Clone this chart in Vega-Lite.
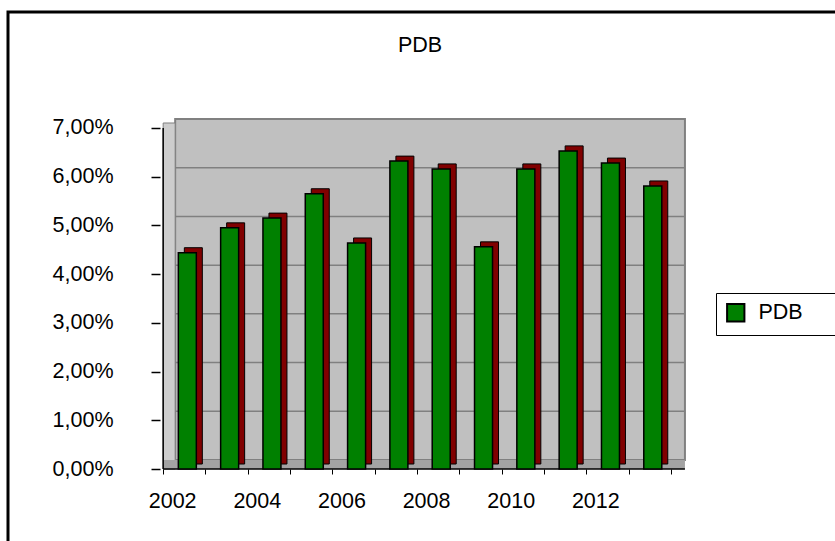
{
  "$schema": "https://vega.github.io/schema/vega-lite/v6.json",
  "width": 830,
  "height": 535,
  "autosize": {"type": "none"},
  "padding": {"left": 8, "top": 12, "right": 0, "bottom": 0},
  "background": "white",
  "title": {
    "text": "PDB",
    "font": "Liberation Sans",
    "fontSize": 21.5,
    "fontWeight": "normal",
    "color": "black",
    "anchor": "middle",
    "frame": "group",
    "baseline": "alphabetic",
    "offset": -61,
    "dx": -3
  },
  "data": {
    "values": [
      {"year": 2002, "pdb": 0.0444, "serie": "PDB"},
      {"year": 2003, "pdb": 0.0495, "serie": "PDB"},
      {"year": 2004, "pdb": 0.0515, "serie": "PDB"},
      {"year": 2005, "pdb": 0.0565, "serie": "PDB"},
      {"year": 2006, "pdb": 0.0464, "serie": "PDB"},
      {"year": 2007, "pdb": 0.0632, "serie": "PDB"},
      {"year": 2008, "pdb": 0.0616, "serie": "PDB"},
      {"year": 2009, "pdb": 0.0456, "serie": "PDB"},
      {"year": 2010, "pdb": 0.0616, "serie": "PDB"},
      {"year": 2011, "pdb": 0.0653, "serie": "PDB"},
      {"year": 2012, "pdb": 0.0628, "serie": "PDB"},
      {"year": 2013, "pdb": 0.0581, "serie": "PDB"}
    ]
  },
  "layer": [
    {
      "data": {"values": [{}]},
      "mark": {"type": "rect", "fill": "#C0C0C0", "stroke": "#808080", "strokeWidth": 2, "xOffset": 12, "x2Offset": 14, "yOffset": -9, "y2Offset": -9},
      "encoding": {
        "x": {"datum": 2001.5, "type": "quantitative", "title": null, "scale": {"domain": [1997.951, 2017.33], "nice": false, "zero": false}},
        "x2": {"datum": 2013.5},
        "y": {"datum": 0, "type": "quantitative", "title": null, "scale": {"domain": [-0.01601, 0.09381], "nice": false, "zero": false}},
        "y2": {"datum": 0.07}
      }
    },
    {
      "data": {"values": [{}]},
      "mark": {"type": "rect", "fill": "#CDCDCD", "stroke": "#808080", "strokeWidth": 1, "x2Offset": 12, "y2Offset": -5},
      "encoding": {
        "x": {"datum": 2001.5, "type": "quantitative", "title": null, "scale": {"domain": [1997.951, 2017.33], "nice": false, "zero": false}},
        "x2": {"datum": 2001.5},
        "y": {"datum": 0, "type": "quantitative", "title": null, "scale": {"domain": [-0.01601, 0.09381], "nice": false, "zero": false}},
        "y2": {"datum": 0.07}
      }
    },
    {
      "data": {"values": [{}]},
      "mark": {"type": "rect", "fill": "#A3A3A3", "x2Offset": 14, "y2Offset": -9},
      "encoding": {
        "x": {"datum": 2001.5, "type": "quantitative", "title": null, "scale": {"domain": [1997.951, 2017.33], "nice": false, "zero": false}},
        "x2": {"datum": 2013.5},
        "y": {"datum": 0, "type": "quantitative", "title": null, "scale": {"domain": [-0.01601, 0.09381], "nice": false, "zero": false}},
        "y2": {"datum": 0}
      }
    },
    {
      "data": {"values": [{"g": 0.01}, {"g": 0.02}, {"g": 0.03}, {"g": 0.04}, {"g": 0.05}, {"g": 0.06}]},
      "mark": {"type": "rule", "stroke": "#808080", "strokeWidth": 1.5, "xOffset": 12, "x2Offset": 14, "yOffset": -9},
      "encoding": {
        "x": {"datum": 2001.5, "type": "quantitative", "title": null, "scale": {"domain": [1997.951, 2017.33], "nice": false, "zero": false}},
        "x2": {"datum": 2013.5},
        "y": {"field": "g", "type": "quantitative", "title": null, "scale": {"domain": [-0.01601, 0.09381], "nice": false, "zero": false}}
      }
    },
    {
      "data": {"values": [{}]},
      "mark": {"type": "rule", "stroke": "black", "strokeWidth": 1.5},
      "encoding": {
        "x": {"datum": 2001.5, "type": "quantitative", "title": null, "scale": {"domain": [1997.951, 2017.33], "nice": false, "zero": false}},
        "y": {"datum": 0, "type": "quantitative", "title": null, "scale": {"domain": [-0.01601, 0.09381], "nice": false, "zero": false}},
        "y2": {"datum": 0.07}
      }
    },
    {
      "data": {"values": [{}]},
      "mark": {"type": "rule", "stroke": "black", "strokeWidth": 1.5, "x2Offset": 14},
      "encoding": {
        "x": {"datum": 2001.5, "type": "quantitative", "title": null, "scale": {"domain": [1997.951, 2017.33], "nice": false, "zero": false}},
        "x2": {"datum": 2013.5},
        "y": {"datum": 0, "type": "quantitative", "title": null, "scale": {"domain": [-0.01601, 0.09381], "nice": false, "zero": false}}
      }
    },
    {
      "mark": {"type": "bar", "color": "#800000", "stroke": "black", "strokeWidth": 1, "width": 18, "xOffset": 9, "yOffset": -5, "y2Offset": -5},
      "encoding": {
        "x": {"field": "year", "type": "quantitative", "title": null, "scale": {"domain": [1997.951, 2017.33], "nice": false, "zero": false}},
        "y": {"field": "pdb", "type": "quantitative", "title": null, "scale": {"domain": [-0.01601, 0.09381], "nice": false, "zero": false}}
      }
    },
    {
      "mark": {"type": "bar", "stroke": "black", "strokeWidth": 1.5, "width": 18, "xOffset": 3},
      "encoding": {
        "x": {
          "field": "year",
          "type": "quantitative",
          "title": null,
          "scale": {"domain": [1997.951, 2017.33], "nice": false, "zero": false},
          "axis": {
            "orient": "bottom",
            "offset": -78,
            "zindex": 1,
            "values": [2001.5, 2002.5, 2003.5, 2004.5, 2005.5, 2006.5, 2007.5, 2008.5, 2009.5, 2010.5, 2011.5, 2012.5, 2013.5],
            "domain": false,
            "grid": false,
            "tickSize": 5,
            "tickColor": "black",
            "tickWidth": 1,
            "labelAngle": 0,
            "labelFlush": false,
            "labelOverlap": false,
            "labelOffset": 9,
            "labelPadding": 16,
            "labelFont": "Liberation Sans",
            "labelFontSize": 21.5,
            "labelColor": "black",
            "labelExpr": "datum.value < 2013 && (datum.value + 0.5) % 2 == 0 ? toString(datum.value + 0.5) : ''"
          }
        },
        "y": {
          "field": "pdb",
          "type": "quantitative",
          "title": null,
          "scale": {"domain": [-0.01601, 0.09381], "nice": false, "zero": false},
          "axis": {
            "orient": "left",
            "offset": -152,
            "zindex": 1,
            "values": [0, 0.01, 0.02, 0.03, 0.04, 0.05, 0.06, 0.07],
            "format": ".2%",
            "domain": false,
            "grid": false,
            "tickSize": 9,
            "tickColor": "black",
            "tickWidth": 1.5,
            "labelPadding": 38,
            "labelOverlap": false,
            "labelFont": "Liberation Sans",
            "labelFontSize": 21.5,
            "labelColor": "black"
          }
        },
        "color": {
          "field": "serie",
          "type": "nominal",
          "scale": {"range": ["#008000"]},
          "legend": {
            "title": null,
            "orient": "none",
            "legendX": 708,
            "legendY": 281,
            "symbolType": "square",
            "symbolSize": 300,
            "symbolStrokeColor": "black",
            "symbolStrokeWidth": 2,
            "labelFont": "Liberation Sans",
            "labelFontSize": 21.5,
            "labelColor": "black",
            "labelOffset": 12,
            "labelExpr": "datum.label + '\u00a0\u00a0\u00a0\u00a0\u00a0\u00a0\u200b'",
            "strokeColor": "black",
            "fillColor": "white",
            "padding": 9
          }
        }
      }
    }
  ],
  "config": {
    "locale": {"number": {"decimal": ",", "thousands": ".", "grouping": [3], "currency": ["", " €"]}},
    "view": {"stroke": "black", "strokeWidth": 3, "fill": "white"},
    "font": "Liberation Sans"
  }
}
